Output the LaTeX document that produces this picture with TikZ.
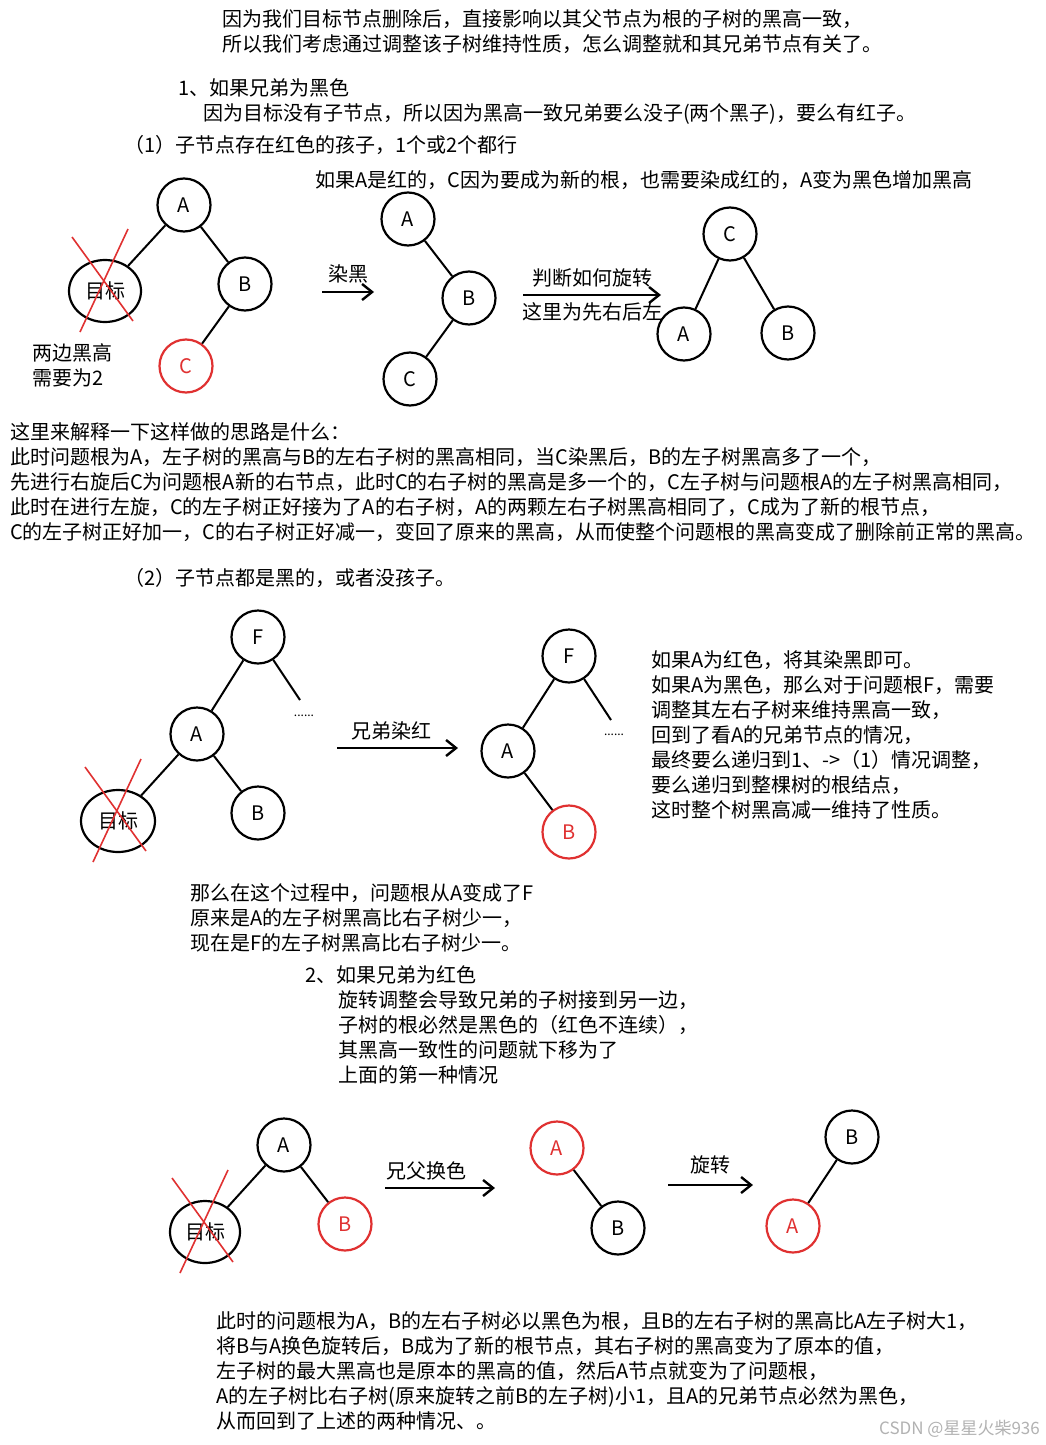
\documentclass[tikz,border=0pt]{standalone}
\usepackage{fontspec}
\setmainfont{Noto Sans CJK SC}
\usetikzlibrary{shapes.geometric,arrows.meta}
\definecolor{exred}{HTML}{E03131}
\newcommand{\lines}[1]{\begin{tabular}[t]{@{}l@{}}#1\end{tabular}}
\begin{document}
\begin{tikzpicture}[x=1pt,y=-1pt,
	every node/.style={font=\fontsize{20}{25}\selectfont},
	txt/.style={anchor=base west,inner sep=0pt},
	vtx/.style={circle,draw,line width=2.2pt,minimum size=53pt,inner sep=0pt},
	redvtx/.style={vtx,draw=exred,text=exred},
	tgt/.style={ellipse,draw,line width=2.2pt,minimum width=72pt,minimum height=62pt,inner sep=0pt},
	link/.style={line width=2pt},
	cross/.style={draw=exred,line width=1.6pt},
	move/.style={line width=2.4pt,-{Straight Barb[length=10pt,width=16pt]}},
	dots/.style={font=\fontsize{12}{12}\selectfont,inner sep=0pt}]

	\fill[white] (0,0) rectangle (1045,1445);
	\useasboundingbox (0,0) rectangle (1045,1445);

	% texts
	\node[txt] (intro) at (222,27) {\lines{因为我们目标节点删除后，直接影响以其父节点为根的子树的黑高一致，\\所以我们考虑通过调整该子树维持性质，怎么调整就和其兄弟节点有关了。}};
	\node[txt] (case1) at (178,95) {1、如果兄弟为黑色};
	\node[txt] (case1why) at (203,120) {因为目标没有子节点，所以因为黑高一致兄弟要么没子(两个黑子)，要么有红子。};
	\node[txt] (sub1) at (124,152) {（1）子节点存在红色的孩子，1个或2个都行};
	\node[txt] (redA) at (315,187) {如果A是红的，C因为要成为新的根，也需要染成红的，A变为黑色增加黑高};
	\node[txt] (twoside) at (32,360) {\lines{两边黑高\\需要为2}};
	\node[txt] (explain) at (10,439) {\lines{这里来解释一下这样做的思路是什么：\\此时问题根为A，左子树的黑高与B的左右子树的黑高相同，当C染黑后，B的左子树黑高多了一个，\\先进行右旋后C为问题根A新的右节点，此时C的右子树的黑高是多一个的，C左子树与问题根A的左子树黑高相同，\\此时在进行左旋，C的左子树正好接为了A的右子树，A的两颗左右子树黑高相同了，C成为了新的根节点，\\C的左子树正好加一，C的右子树正好减一，变回了原来的黑高，从而使整个问题根的黑高变成了删除前正常的黑高。}};
	\node[txt] (sub2) at (124,585) {（2）子节点都是黑的，或者没孩子。};
	\node[txt] (blackA) at (651,667) {\lines{如果A为红色，将其染黑即可。\\如果A为黑色，那么对于问题根F，需要\\调整其左右子树来维持黑高一致，\\回到了看A的兄弟节点的情况，\\最终要么递归到1、->（1）情况调整，\\要么递归到整棵树的根结点，\\这时整个树黑高减一维持了性质。}};
	\node[txt] (rootmove) at (190,900) {\lines{那么在这个过程中，问题根从A变成了F\\原来是A的左子树黑高比右子树少一，\\现在是F的左子树黑高比右子树少一。}};
	\node[txt] (case2) at (305,982) {2、如果兄弟为红色};
	\node[txt] (case2why) at (338,1007) {\lines{旋转调整会导致兄弟的子树接到另一边，\\子树的根必然是黑色的（红色不连续），\\其黑高一致性的问题就下移为了\\上面的第一种情况}};
	\node[txt] (final) at (216,1328) {\lines{此时的问题根为A，B的左右子树必以黑色为根，且B的左右子树的黑高比A左子树大1，\\将B与A换色旋转后，B成为了新的根节点，其右子树的黑高变为了原本的值，\\左子树的最大黑高也是原本的黑高的值，然后A节点就变为了问题根，\\A的左子树比右子树(原来旋转之前B的左子树)小1，且A的兄弟节点必然为黑色，\\从而回到了上述的两种情况、。}};
	\node[anchor=base east,inner sep=0pt,text=black!30,font=\fontsize{17}{17}\selectfont] (mark) at (1040,1434) {CSDN @星星火柴936};

	% case (1)
	\node[vtx] (a1) at (184,205) {A};
	\node[tgt] (t1) at (105,291) {目标};
	\node[vtx] (b1) at (245,284) {B};
	\node[redvtx] (c1) at (186,366) {C};
	\draw[link] (a1) -- (t1);
	\draw[link] (a1) -- (b1);
	\draw[link] (b1) -- (c1);

	\node[vtx] (a2) at (408,219) {A};
	\node[vtx] (b2) at (469,298) {B};
	\node[vtx] (c2) at (410,379) {C};
	\draw[link] (a2) -- (b2);
	\draw[link] (b2) -- (c2);

	\node[vtx] (c3) at (730,234) {C};
	\node[vtx] (a3) at (684,334) {A};
	\node[vtx] (b3) at (788,333) {B};
	\draw[link] (c3) -- (a3);
	\draw[link] (c3) -- (b3);

	\coordinate (m1s) at (322,292);
	\coordinate (m1e) at (374,292);
	\draw[move] (m1s) -- node[above=4pt] {染黑} (m1e);
	\coordinate (m2s) at (523,295);
	\coordinate (m2e) at (661,295);
	\draw[move] (m2s) -- node[above=3pt] {判断如何旋转} node[below=3pt] {这里为先右后左} (m2e);

	% case (2)
	\node[vtx] (f4) at (258,637) {F};
	\node[vtx] (a4) at (197,734) {A};
	\node[tgt,minimum width=74pt] (t4) at (118,821) {目标};
	\node[vtx] (b4) at (258,813) {B};
	\coordinate (f4x) at (300,700);
	\node[dots] (d4) at (304,716) {......};
	\draw[link] (f4) -- (a4);
	\draw[link] (f4) -- (f4x);
	\draw[link] (a4) -- (t4);
	\draw[link] (a4) -- (b4);

	\node[vtx] (f5) at (569,656) {F};
	\node[vtx] (a5) at (508,751) {A};
	\node[redvtx] (b5) at (569,832) {B};
	\coordinate (f5x) at (611,720);
	\node[dots] (d5) at (614,735) {......};
	\draw[link] (f5) -- (a5);
	\draw[link] (f5) -- (f5x);
	\draw[link] (a5) -- (b5);

	\coordinate (m3s) at (337,748);
	\coordinate (m3e) at (458,748);
	\draw[move] (m3s) -- node[above=3pt,pos=0.45] {兄弟染红} (m3e);

	% case 2
	\node[vtx] (a6) at (284,1145) {A};
	\node[tgt,minimum width=70pt] (t6) at (205,1232) {目标};
	\node[redvtx] (b6) at (345,1224) {B};
	\draw[link] (a6) -- (t6);
	\draw[link] (a6) -- (b6);

	\node[redvtx] (a7) at (557,1148) {A};
	\node[vtx] (b7) at (618,1228) {B};
	\draw[link] (a7) -- (b7);

	\node[vtx] (b8) at (852,1137) {B};
	\node[redvtx] (a8) at (793,1226) {A};
	\draw[link] (b8) -- (a8);

	\coordinate (m4s) at (385,1188);
	\coordinate (m4e) at (495,1188);
	\draw[move] (m4s) -- node[above=3pt,pos=0.38] {兄父换色} (m4e);
	\coordinate (m5s) at (668,1185);
	\coordinate (m5e) at (753,1185);
	\draw[move] (m5s) -- node[above=6pt] {旋转} (m5e);

	% crossed out targets
	\foreach \t in {t1,t4,t6} {
		\draw[cross] ([shift={(-33,-54)}]\t.center) -- ([shift={(28,30)}]\t.center);
		\draw[cross] ([shift={(23,-62)}]\t.center) -- ([shift={(-25,41)}]\t.center);
	}

\end{tikzpicture}
\end{document}
